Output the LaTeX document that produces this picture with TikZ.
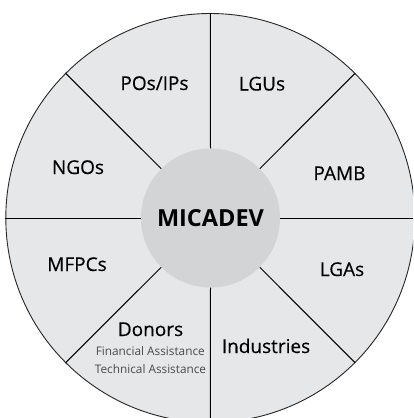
\documentclass[tikz,border=0pt]{standalone}
\usepackage{fontspec}
\setmainfont{Open Sans}
\newfontfamily\labelfont[FakeBold=0.35]{Open Sans}
\definecolor{rimfill}{HTML}{E6E7E8}
\definecolor{hubfill}{HTML}{D3D4D6}
\definecolor{subtext}{HTML}{4A4A4A}
\begin{document}
\begin{tikzpicture}[x=1pt,y=-1pt,
  rimstyle/.style={circle,draw=black!85,line width=0.9pt,fill=rimfill,minimum size=409pt,inner sep=0pt},
  hubstyle/.style={circle,fill=hubfill,minimum size=139pt,inner sep=0pt},
  spoke/.style={line width=1pt,black},
  sector/.style={anchor=base,font=\labelfont\fontsize{19}{19}\selectfont,inner sep=0pt},
  subline/.style={anchor=base,font=\fontsize{11.8}{11.8}\selectfont,text=subtext,inner sep=0pt}]
\useasboundingbox (0,0) rectangle (413,418);
\clip (0,0) rectangle (413,418);
% outer ring and central hub
\node[rimstyle] (rim) at (210.3,218) {};
\node[hubstyle] (hub) at (210.5,218) {};
% spokes between hub and rim
\foreach \a in {0,45,...,315}
  \draw[spoke] (hub.\a) -- (rim.\a);
% hub label
\node[anchor=base,inner sep=0pt,font=\fontsize{23.5}{23.5}\selectfont\bfseries] (micadev) at (210.5,226.7) {MICADEV};
% sector labels
\node[sector] (pos) at (154.5,90) {POs/IPs};
\node[sector] (lgus) at (262,90.5) {LGUs};
\node[sector] (pamb) at (339.5,180) {PAMB};
\node[sector] (ngos) at (78,174) {NGOs};
\node[sector] (mfpcs) at (77,271) {MFPCs};
\node[sector] (lgas) at (342,276) {LGAs};
\node[sector] (ind) at (266,353) {Industries};
\node[sector] (donors) at (150.5,336) {Donors};
\node[subline] (fin) at (150.3,355.5) {Financial Assistance};
\node[subline] (tech) at (150.5,373.5) {Technical Assistance};
\end{tikzpicture}
\end{document}
